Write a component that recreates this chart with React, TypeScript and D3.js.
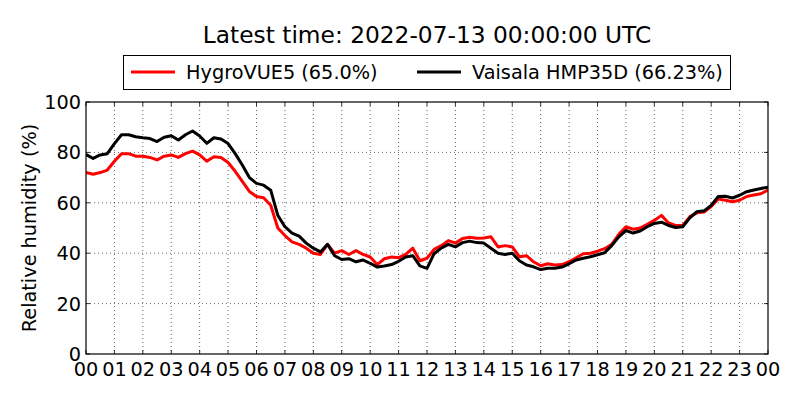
import React from "react";
import * as d3 from "d3";

const HOURS_STEP = 0.25;
const xTickLabels = ["00","01","02","03","04","05","06","07","08","09","10","11","12","13","14","15","16","17","18","19","20","21","22","23","00"];
const yTicks = [0, 20, 40, 60, 80, 100];

const hygroVUE5 = [
  72, 71.3, 72, 73, 76.5, 79.5, 79.5, 78.5, 78.5, 78, 77, 78.5, 79, 78, 79.5, 80.5,
  79, 76.5, 78.3, 78, 76, 72.5, 68.5, 64.5, 62.5, 62, 59, 50, 47, 44.5, 43.5, 42,
  40, 39.5, 43.5, 40, 41, 39.5, 41, 39.5, 38.5, 35.5, 37.8, 38.5, 38.2, 39.5, 42, 37,
  38, 41.5, 43, 45, 44, 45.8, 46.3, 45.9, 46, 46.5, 42.5, 43, 42.5, 38.6, 39, 36.6,
  35, 35.8, 35.3, 35.5, 36.6, 38.2, 39.8, 40, 40.8, 41.8, 43.5, 47.5, 50.5, 49.5, 50, 51.5,
  53, 55, 52, 51, 51, 54.5, 56, 56.3, 58.5, 61.5, 61, 60.4, 61, 62.5, 63.1, 63.6, 65.0
];

const vaisalaHMP35D = [
  79.2, 77.6, 79, 79.5, 83.5, 87, 87, 86.2, 85.8, 85.5, 84.3, 86, 86.6, 84.9, 87, 88.5,
  86.5, 83.6, 85.8, 85.3, 83.5, 79.5, 75, 70, 67.7, 67, 65, 55, 50.5, 48, 46.8, 44,
  42, 40.5, 43.5, 39, 37.5, 37.8, 36.6, 37.3, 36, 34.5, 34.9, 35.5, 36.8, 38.5, 39, 35,
  34, 39.8, 42, 43.5, 42.5, 44.2, 44.8, 44.2, 44, 42, 40, 39.5, 40, 37, 35.3, 34.6,
  33.5, 34, 34, 34.5, 35.8, 37.3, 38, 38.6, 39.4, 40.2, 43, 46.5, 49, 48, 48.8, 50.5,
  51.8, 52.3, 51, 50.2, 50.5, 54, 56.5, 56.8, 59, 62.5, 62.6, 61.9, 63, 64.4, 65.1, 65.7, 66.2
];

const series = [
  { name: "HygroVUE5 (65.0%)", color: "#ff0000", values: hygroVUE5 },
  { name: "Vaisala HMP35D (66.23%)", color: "#000000", values: vaisalaHMP35D },
];

const W = 800, H = 400;
const M = { left: 86, right: 768, top: 102, bottom: 354 };
const FONT = "DejaVu Sans, sans-serif";
const FS = 19.3;

export default function App() {
  const x = d3.scaleLinear().domain([0, 24]).range([M.left, M.right]);
  const y = d3.scaleLinear().domain([0, 100]).range([M.bottom, M.top]);
  const line = d3.line<number>()
    .x((_, i) => x(i * HOURS_STEP))
    .y((d) => y(d));
  const xTicks = xTickLabels.map((_, i) => i);

  return (
    <svg width={W} height={H} style={{ position: "absolute", left: 0, top: 0, background: "#fff" }} fontFamily={FONT}>
      <rect x={0} y={0} width={W} height={H} fill="#fff" />
      <text x={(M.left + M.right) / 2} y={43} textAnchor="middle" fontSize={23.3}>
        Latest time: 2022-07-13 00:00:00 UTC
      </text>
      {/* grid */}
      {xTicks.slice(1, -1).map((t) => (
        <line key={"gx" + t} x1={x(t)} x2={x(t)} y1={M.top} y2={M.bottom} stroke="#000" strokeWidth={0.6} strokeDasharray="1,3" />
      ))}
      {yTicks.slice(1, -1).map((t) => (
        <line key={"gy" + t} x1={M.left} x2={M.right} y1={y(t)} y2={y(t)} stroke="#000" strokeWidth={0.6} strokeDasharray="1,3" />
      ))}
      {/* ticks (inward, both sides) */}
      {xTicks.map((t) => (
        <g key={"tx" + t}>
          <line x1={x(t)} x2={x(t)} y1={M.bottom} y2={M.bottom - 4} stroke="#000" strokeWidth={0.8} />
          <line x1={x(t)} x2={x(t)} y1={M.top} y2={M.top + 4} stroke="#000" strokeWidth={0.8} />
          <text x={x(t)} y={376} textAnchor="middle" fontSize={FS}>{xTickLabels[t]}</text>
        </g>
      ))}
      {yTicks.map((t) => (
        <g key={"ty" + t}>
          <line x1={M.left} x2={M.left + 4} y1={y(t)} y2={y(t)} stroke="#000" strokeWidth={0.8} />
          <line x1={M.right} x2={M.right - 4} y1={y(t)} y2={y(t)} stroke="#000" strokeWidth={0.8} />
          <text x={M.left - 5} y={y(t) + 7} textAnchor="end" fontSize={FS}>{t}</text>
        </g>
      ))}
      <defs>
        <clipPath id="plotclip">
          <rect x={M.left} y={M.top} width={M.right - M.left} height={M.bottom - M.top} />
        </clipPath>
      </defs>
      <g clipPath="url(#plotclip)">
        {series.map((s) => (
          <path key={s.name} d={line(s.values) || ""} fill="none" stroke={s.color} strokeWidth={3} strokeLinejoin="round" />
        ))}
      </g>
      <rect x={M.left} y={M.top} width={M.right - M.left} height={M.bottom - M.top} fill="none" stroke="#000" strokeWidth={1.2} />
      <text transform={`translate(36,${(M.top + M.bottom) / 2}) rotate(-90)`} textAnchor="middle" fontSize={FS}>
        Relative humidity (%)
      </text>
      {/* legend */}
      <rect x={123.5} y={55.5} width={607} height={34} fill="#fff" stroke="#000" strokeWidth={1} />
      <line x1={131} x2={175} y1={72} y2={72} stroke={series[0].color} strokeWidth={3} />
      <text x={186} y={79} fontSize={FS}>{series[0].name}</text>
      <line x1={417} x2={461} y1={72} y2={72} stroke={series[1].color} strokeWidth={3} />
      <text x={472} y={79} fontSize={FS}>{series[1].name}</text>
    </svg>
  );
}
